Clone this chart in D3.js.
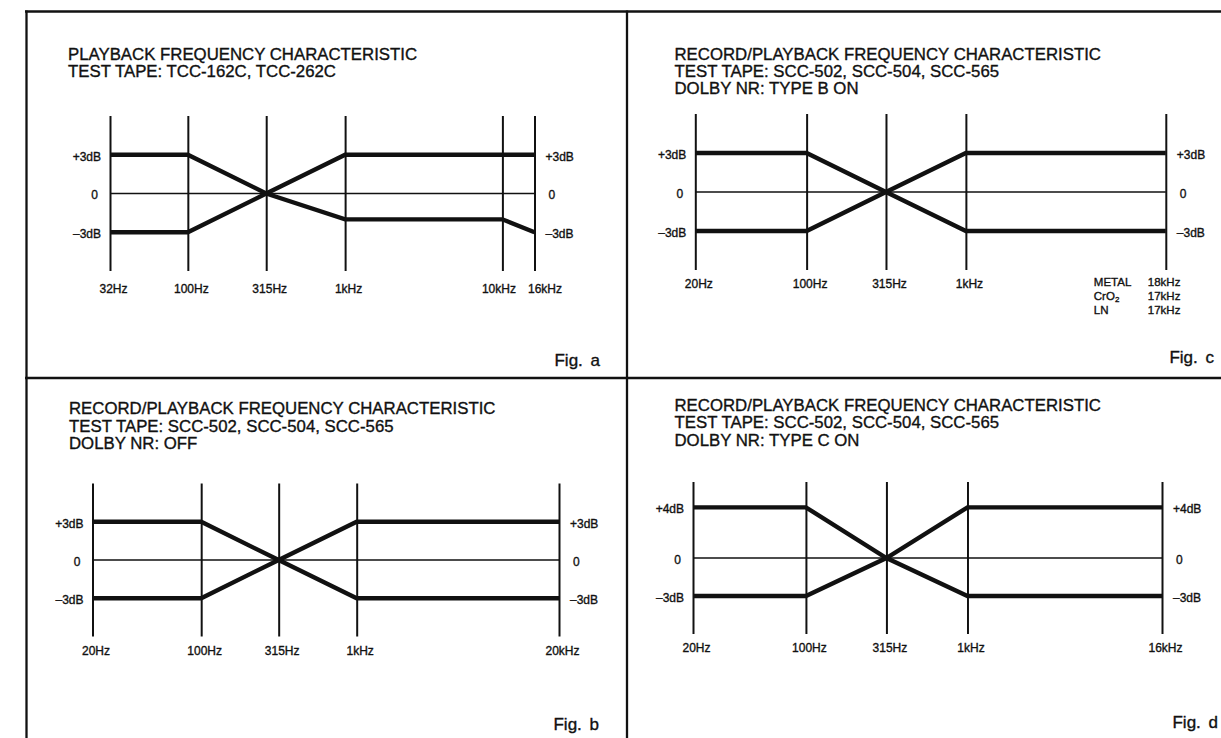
<!DOCTYPE html>
<html>
<head>
<meta charset="utf-8">
<script src="https://cdn.jsdelivr.net/npm/d3@7/dist/d3.min.js"></script>
<style>
html, body { margin: 0; padding: 0; background: #fff; }
svg { display: block; }
text { font-family: "Liberation Sans", Arial, Helvetica, sans-serif; fill: #111; }
</style>
</head>
<body>
<svg id="chart" width="1221" height="738"></svg>
<script>
// ---------------- DATA ----------------
// Fig. a
const figATitle = ["PLAYBACK FREQUENCY CHARACTERISTIC", "TEST TAPE: TCC-162C, TCC-262C"];
const figAFreqs = [32, 100, 315, 1000, 10000, 16000];
const figAFreqLabels = ["32Hz", "100Hz", "315Hz", "1kHz", "10kHz", "16kHz"];
const figACurveHigh = [3, 3, 0, -2, -2, -3];
const figACurveLow = [-3, -3, 0, 3, 3, 3];
const figADbTicks = [3, 0, -3];
const figADbLabels = ["+3dB", "0", "–3dB"];

// Fig. b
const figBTitle = ["RECORD/PLAYBACK FREQUENCY CHARACTERISTIC", "TEST TAPE: SCC-502, SCC-504, SCC-565", "DOLBY NR: OFF"];
const figBFreqs = [20, 100, 315, 1000, 20000];
const figBFreqLabels = ["20Hz", "100Hz", "315Hz", "1kHz", "20kHz"];
const figBCurveHigh = [3, 3, 0, -3, -3];
const figBCurveLow = [-3, -3, 0, 3, 3];
const figBDbTicks = [3, 0, -3];
const figBDbLabels = ["+3dB", "0", "–3dB"];

// Fig. c
const figCTitle = ["RECORD/PLAYBACK FREQUENCY CHARACTERISTIC", "TEST TAPE: SCC-502, SCC-504, SCC-565", "DOLBY NR: TYPE B ON"];
const figCFreqs = [20, 100, 315, 1000, 18000];
const figCFreqLabels = ["20Hz", "100Hz", "315Hz", "1kHz", ""];
const figCCurveHigh = [3, 3, 0, -3, -3];
const figCCurveLow = [-3, -3, 0, 3, 3];
const figCDbTicks = [3, 0, -3];
const figCDbLabels = ["+3dB", "0", "–3dB"];
const figCTapeTypes = ["METAL", "CrO2", "LN"];
const figCTapeLimits = ["18kHz", "17kHz", "17kHz"];

// Fig. d
const figDTitle = ["RECORD/PLAYBACK FREQUENCY CHARACTERISTIC", "TEST TAPE: SCC-502, SCC-504, SCC-565", "DOLBY NR: TYPE C ON"];
const figDFreqs = [20, 100, 315, 1000, 16000];
const figDFreqLabels = ["20Hz", "100Hz", "315Hz", "1kHz", "16kHz"];
const figDCurveHigh = [4, 4, 0, -3, -3];
const figDCurveLow = [-3, -3, 0, 4, 4];
const figDDbTicks = [4, 0, -3];
const figDDbLabels = ["+4dB", "0", "–3dB"];

const dbExtent = [-6, 6];

// ---------------- LAYOUT ----------------
const panels = [
  { name: "Fig. a", title: figATitle, freqs: figAFreqs, freqLabels: figAFreqLabels,
    curves: [figACurveHigh, figACurveLow], dbTicks: figADbTicks, dbLabels: figADbLabels,
    L: { x0: 110, x1: 534.5, yb: 271, yt: 116, titleX: 68, titleY: [60.3, 77.3], labelY: 293, figX: 600, figY: 366 } },
  { name: "Fig. b", title: figBTitle, freqs: figBFreqs, freqLabels: figBFreqLabels,
    curves: [figBCurveHigh, figBCurveLow], dbTicks: figBDbTicks, dbLabels: figBDbLabels,
    L: { x0: 92.5, x1: 559, yb: 636.5, yt: 483.5, titleX: 69, titleY: [414.3, 431.5, 449], labelY: 655, figX: 599, figY: 730 } },
  { name: "Fig. c", title: figCTitle, freqs: figCFreqs, freqLabels: figCFreqLabels,
    curves: [figCCurveHigh, figCCurveLow], dbTicks: figCDbTicks, dbLabels: figCDbLabels,
    L: { x0: 695.3, x1: 1165.8, yb: 270, yt: 114, titleX: 674.5, titleY: [60, 77, 94], labelY: 287.5, figX: 1214, figY: 363 } },
  { name: "Fig. d", title: figDTitle, freqs: figDFreqs, freqLabels: figDFreqLabels,
    curves: [figDCurveHigh, figDCurveLow], dbTicks: figDDbTicks, dbLabels: figDDbLabels,
    L: { x0: 693, x1: 1162, yb: 634, yt: 482, titleX: 674.5, titleY: [411, 428, 446], labelY: 651.5, figX: 1218, figY: 728 } }
];

const svg = d3.select("#chart");
const ink = "#111";
const textStroke = 0.35;

// frame
const frame = svg.append("g").attr("stroke", ink).attr("stroke-width", 2.3).attr("fill", "none");
frame.append("line").attr("x1", 25).attr("x2", 1221).attr("y1", 11.5).attr("y2", 11.5);
frame.append("line").attr("x1", 26.5).attr("x2", 26.5).attr("y1", 10.5).attr("y2", 738);
frame.append("line").attr("x1", 627).attr("x2", 627).attr("y1", 10.5).attr("y2", 738);
frame.append("line").attr("x1", 25).attr("x2", 1221).attr("y1", 378).attr("y2", 378);

const smallFont = 12;

function inkText(sel) {
  return sel.attr("fill", ink).attr("stroke", ink).attr("stroke-width", textStroke)
    .attr("font-family", "Liberation Sans, Arial, sans-serif");
}

panels.forEach(p => {
  const L = p.L;
  const x = d3.scaleLog().domain([p.freqs[0], p.freqs[p.freqs.length - 1]]).range([L.x0, L.x1]);
  const y = d3.scaleLinear().domain(dbExtent).range([L.yb, L.yt]);
  const g = svg.append("g");

  // title (one text block, one tspan per line)
  const tt = inkText(g.append("text").attr("font-size", 16.8));
  p.title.forEach((t, i) => {
    tt.append("tspan").attr("x", L.titleX).attr("y", L.titleY[i]).text(t);
  });

  // vertical frequency lines + labels via axis
  const xAxis = d3.axisBottom(x)
    .tickValues(p.freqs)
    .tickSize(-(y(dbExtent[0]) - y(dbExtent[1])))
    .tickPadding(L.labelY - L.yb - 0.71 * smallFont)
    .tickFormat((d, i) => p.freqLabels[i]);
  const xg = g.append("g").attr("transform", `translate(0,${y(dbExtent[0])})`).call(xAxis);
  xg.select(".domain").remove();
  xg.selectAll(".tick line").attr("stroke", ink).attr("stroke-width", 2);
  const xt = inkText(xg.selectAll(".tick text").attr("font-size", smallFont)).attr("dx", 3);

  // push apart crowded frequency labels
  const nodes = xt.nodes();
  const shift = nodes.map(() => 3);
  for (let i = 1; i < nodes.length; i++) {
    const a = nodes[i - 1], b = nodes[i];
    if (!a.textContent || !b.textContent) continue;
    const wa = a.getComputedTextLength(), wb = b.getComputedTextLength();
    const ca = x(p.freqs[i - 1]) + shift[i - 1], cb = x(p.freqs[i]) + shift[i];
    const need = (wa + wb) / 2 + 12;
    if (cb - ca < need) {
      const d = (need - (cb - ca)) / 2;
      shift[i - 1] -= d; shift[i] += d;
    }
  }
  xt.attr("dx", (d, i) => shift[i]);

  // zero reference line
  g.append("line")
    .attr("x1", x(p.freqs[0])).attr("x2", x(p.freqs[p.freqs.length - 1]))
    .attr("y1", y(0)).attr("y2", y(0))
    .attr("stroke", ink).attr("stroke-width", 1.4);

  // dB labels left and right
  const yl = d3.axisLeft(y).tickValues(p.dbTicks).tickSize(0).tickPadding(9)
    .tickFormat((d, i) => p.dbLabels[i]);
  const yr = d3.axisRight(y).tickValues(p.dbTicks).tickSize(0).tickPadding(11)
    .tickFormat((d, i) => p.dbLabels[i]);
  const ylg = g.append("g").attr("transform", `translate(${L.x0},0)`).call(yl);
  const yrg = g.append("g").attr("transform", `translate(${L.x1},0)`).call(yr);
  [ylg, yrg].forEach((ag, k) => {
    ag.select(".domain").remove();
    inkText(ag.selectAll(".tick text").attr("font-size", smallFont))
      .attr("dy", "0.45em")
      .attr("dx", d => d === 0 ? (k === 0 ? -3 : 3) : 0);
  });

  // response curves
  const line = d3.line().x((d, i) => x(p.freqs[i])).y(d => y(d));
  g.selectAll("path.curve").data(p.curves).enter().append("path")
    .attr("class", "curve")
    .attr("d", line)
    .attr("fill", "none").attr("stroke", ink).attr("stroke-width", 4.3)
    .attr("stroke-linejoin", "miter");

  // tape table for Fig. c
  if (p.name === "Fig. c") {
    const xr = x(p.freqs[p.freqs.length - 1]);
    const tg = g.append("g");
    figCTapeTypes.forEach((t, i) => {
      const ty = L.labelY - 1.5 + i * 14;
      const tx = inkText(tg.append("text").attr("x", xr - 72).attr("y", ty).attr("font-size", smallFont - 0.5));
      if (t === "CrO2") {
        tx.append("tspan").text("CrO");
        tx.append("tspan").attr("font-size", 8).attr("dy", 1.5).text("2");
      } else {
        tx.text(t);
      }
      inkText(tg.append("text").attr("x", xr - 18).attr("y", ty).attr("font-size", smallFont - 0.5)).text(figCTapeLimits[i]);
    });
  }

  // figure caption
  inkText(g.append("text").attr("x", L.figX).attr("y", L.figY).attr("text-anchor", "end")
    .attr("font-size", 17).attr("word-spacing", 3)).text(p.name);
});
</script>
</body>
</html>
